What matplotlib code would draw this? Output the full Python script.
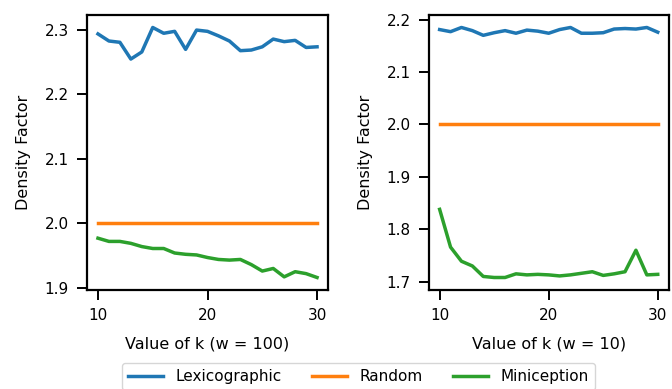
import matplotlib.pyplot as plt
import numpy as np

k = np.arange(10, 31)

# w = 100
lex_100 = [2.294, 2.283, 2.281, 2.255, 2.266, 2.304, 2.295, 2.298, 2.270, 2.300, 2.298,
           2.291, 2.283, 2.268, 2.269, 2.274, 2.286, 2.282, 2.284, 2.273, 2.274]
rand_100 = [2.0] * 21
mini_100 = [1.977, 1.972, 1.972, 1.969, 1.964, 1.961, 1.961, 1.954, 1.952, 1.951, 1.947,
            1.944, 1.943, 1.944, 1.936, 1.926, 1.930, 1.917, 1.925, 1.922, 1.916]

# w = 10
lex_10 = [2.181, 2.177, 2.185, 2.179, 2.170, 2.175, 2.179, 2.174, 2.180, 2.178, 2.174,
          2.181, 2.185, 2.174, 2.174, 2.175, 2.182, 2.183, 2.182, 2.185, 2.176]
rand_10 = [2.0] * 21
mini_10 = [1.838, 1.766, 1.739, 1.730, 1.710, 1.708, 1.708, 1.715, 1.713, 1.714, 1.713,
           1.711, 1.713, 1.716, 1.719, 1.712, 1.715, 1.719, 1.760, 1.713, 1.714]

names = ["Lexicographic", "Random", "Miniception"]

plt.rcParams['font.family'] = 'DejaVu Sans'

fig = plt.figure(figsize=(6.72, 3.89), dpi=100)
ax1 = fig.add_axes([0.1295, 0.2545, 0.3586, 0.707])
ax2 = fig.add_axes([0.638, 0.2545, 0.357, 0.707])

panels = [(ax1, [lex_100, rand_100, mini_100], "Value of k (w = 100)"),
          (ax2, [lex_10, rand_10, mini_10], "Value of k (w = 10)")]

for ax, series, xl in panels:
    for s, name in zip(series, names):
        ax.plot(k, s, linewidth=2.5, label=name)
    ax.set_xlabel(xl, fontsize=11.5, labelpad=10)
    ax.set_ylabel("Density Factor", fontsize=11.5, labelpad=10)
    ax.set_xticks([10, 20, 30])
    ax.tick_params(labelsize=11, length=7, width=1.4, pad=6)
    for sp in ax.spines.values():
        sp.set_linewidth(1.6)

ax1.set_yticks([1.9, 2.0, 2.1, 2.2, 2.3])
ax2.set_yticks([1.7, 1.8, 1.9, 2.0, 2.1, 2.2])

handles, labels = ax1.get_legend_handles_labels()
fig.legend(handles, labels, loc='upper center', bbox_to_anchor=(0.533, 0.087),
           ncol=3, fontsize=11, handlelength=2.3, columnspacing=2.0)

fig.savefig("out.png", dpi=100)
